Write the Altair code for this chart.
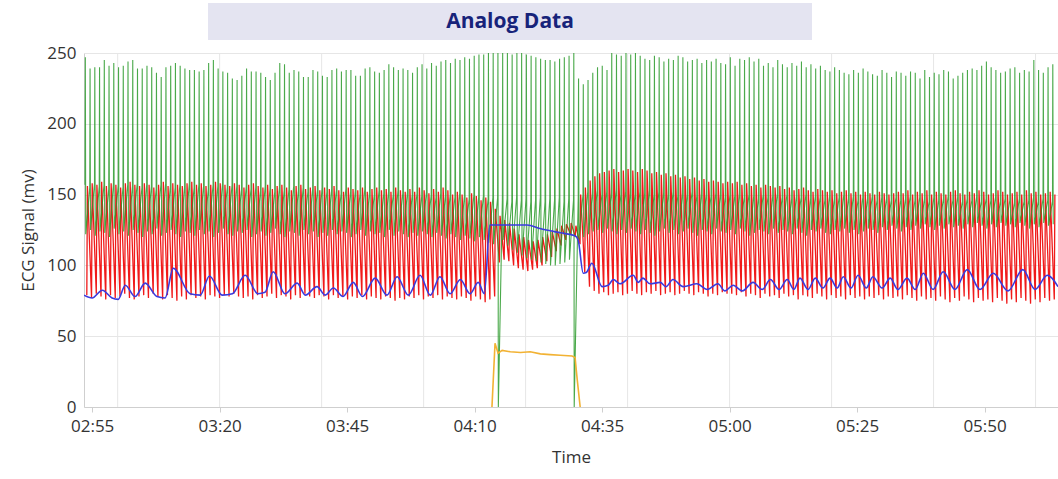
import altair as alt
import pandas as pd

# ---------------- data ----------------
# time axis in seconds (labels shown as mm:ss)
x_domain = [173.4, 364.4]
label_times = [175, 200, 225, 250, 275, 300, 325, 350]
grid_times = [180, 200, 220, 240, 260, 280, 300, 320, 340, 360]
y_ticks = [0, 50, 100, 150, 200, 250]

beat_start = 173.6      # first beat (s)
beat_period = 0.93      # seconds between beats

# green lead: R-peak, S-trough, T level for each beat
green_R = ([247, 239, 240, 240, 245, 241, 243, 240, 241, 244, 245, 239, 239, 241, 240, 236, 233, 240, 241, 243,
            241, 239, 238, 238, 237, 238, 243, 245, 239, 237, 236, 232, 231, 234]
           + [239, 237, 237, 236, 233, 231, 236, 243, 242, 236, 238, 237, 233, 233, 238, 237, 234, 233, 238, 239,
              237, 238, 238, 234, 234, 239, 240, 237, 236, 238, 242, 240, 238, 239]
           + [238, 236, 240, 242, 239, 243, 241, 244, 245, 243, 246, 245, 247, 246, 248, 249, 249, 250, 250]
           + [250]
           + [250, 250, 249, 250, 250, 249, 248, 247, 246, 245, 245, 244, 246, 247, 248]
           + [250]
           + [232, 228, 231, 236, 240, 241, 238]
           + [250, 249, 248, 250, 249, 250, 248, 246, 245, 248, 247, 244, 246, 245, 248, 247, 244, 245, 246, 243,
              245, 244, 246, 243, 242]
           + [247, 241, 246, 245, 247, 244, 246, 241, 243, 240, 245, 242, 240, 243, 241, 244, 240, 242, 239, 241,
              238, 237, 240, 238, 236, 235, 238, 236, 239, 237, 235, 234, 238, 236, 233]
           + [237, 236, 234, 237, 236, 232, 238, 233, 236, 235, 238, 237, 232, 234, 236, 238, 239, 238, 241, 244,
              240, 238, 236, 237, 239, 240, 236, 238, 237, 245, 238, 236, 240, 242])

green_S = ([122, 125, 121, 124, 123, 120, 126, 122, 124, 121, 125, 123, 120, 124, 122, 126, 121, 123, 125, 122,
            120, 124, 123, 121, 125, 122, 124, 120, 123, 126, 122, 121, 124, 123, 125, 120, 122, 124, 121, 123,
            126, 122, 120, 124, 123, 121, 125, 122, 124, 120, 123, 121, 125, 122, 124, 123, 120, 122, 125, 121,
            124, 122, 123, 120, 125, 121, 124, 122, 120, 123, 121, 124, 122, 120, 123, 121, 119, 122, 120, 118,
            121, 119, 117, 120, 118, 116, 115]
           + [0]
           + [118, 114, 111, 109, 107, 105, 104, 103, 102, 101, 100, 100, 101, 102, 104]
           + [0]
           + [118, 120, 122, 124, 125, 123, 126, 124, 122, 125, 123, 126, 124, 122, 125, 123, 121, 124, 126, 123,
              125, 122, 124, 126, 123, 121, 125, 124, 122, 126, 124, 123, 125, 122, 126, 124, 121, 123, 125, 124,
              122, 126, 123, 125, 124, 122, 126, 123, 121, 125, 124, 126, 123, 122, 125, 124, 126, 123, 125, 122,
              124, 126, 125, 123, 127, 125, 128, 126, 124, 127, 125, 128, 126, 129, 127, 125, 128, 126, 129, 127,
              128, 126, 129, 127, 130, 128, 126, 129, 127, 130, 128, 129, 127, 130, 128, 126, 129, 127, 130, 128,
              129])

green_T = ([157, 155, 158, 156, 157, 154, 158, 156, 155, 157, 156, 158, 155, 157, 156, 154, 157, 158, 156, 155,
            157, 156, 158, 155, 157, 156, 154, 157, 156, 158, 155, 157, 156, 154]
           + [156, 154, 155, 153, 156, 154, 152, 155, 153, 154, 156, 153, 155, 152, 154, 153, 155, 152, 154, 153,
              151, 154, 152, 153, 151, 154, 152, 150, 153, 151, 152, 150, 153, 151]
           + [152, 150, 151, 149, 152, 150, 148, 151, 149, 150, 148, 151, 149, 147, 150, 148, 149, 147, 148]
           + [148, 146, 147, 145, 148, 146, 147, 145, 146, 148, 145, 147, 146, 148, 145, 147, 146]
           + [148, 150, 152, 151, 153, 150, 152, 151, 153, 150, 152, 151, 150, 152, 151, 153, 150, 152, 151, 150,
              152, 149, 151, 150, 152, 149, 151, 150, 149, 151, 150, 148]
           + [150, 149, 151, 148, 150, 149, 147, 150, 148, 149, 151, 148, 150, 147, 149, 148, 150, 147, 149, 148,
              146, 149, 147, 148, 150, 147, 149, 146, 148, 147, 149, 146, 148, 147, 146]
           + [148, 146, 147, 149, 146, 148, 147, 145, 148, 146, 147, 149, 146, 148, 145, 147, 146, 148, 145, 147,
              146, 148, 145, 147, 146, 144, 147, 145, 146, 148, 145, 147, 146, 145])

# red lead: high and low of each beat
red_high = ([156, 158, 157, 159, 156, 158, 157, 155, 158, 159, 157, 156, 158, 157, 155, 157, 159, 156, 158, 157,
             156, 158, 159, 157, 158, 156, 157, 159, 158, 157, 156, 158, 157, 155]
            + [157, 158, 156, 155, 157, 154, 156, 157, 155, 153, 156, 157, 154, 155, 156, 153, 155, 154, 156, 153,
               152, 155, 154, 153, 155, 152, 154, 155, 153, 154, 152, 155, 153, 152]
            + [154, 152, 155, 153, 151, 154, 152, 155, 153, 150, 152, 150, 148, 151, 149, 146, 148, 145, 140]
            + [135, 132, 130, 126, 122, 120, 118, 117, 118, 120, 122, 124, 126, 128, 129, 130, 128]
            + [150, 155, 160, 163, 165, 166, 167, 168, 166, 167, 168, 167, 166, 168, 167, 165, 166, 164, 165, 163,
               164, 162, 163, 161, 162, 160, 161, 159, 160, 159, 158, 159]
            + [158, 159, 157, 158, 156, 157, 155, 157, 156, 155, 156, 154, 155, 153, 154, 155, 153, 152, 154, 153,
               152, 153, 151, 152, 153, 151, 152, 150, 152, 151, 150, 152, 151, 150, 151]
            + [152, 151, 153, 150, 152, 151, 153, 150, 152, 151, 150, 152, 153, 151, 150, 152, 151, 153, 152, 150,
               151, 153, 152, 150, 151, 152, 150, 153, 151, 152, 150, 151, 152, 150])

red_low = ([79, 77, 80, 78, 76, 79, 77, 78, 80, 77, 76, 78, 79, 77, 80, 78, 76, 79, 77, 75,
            78, 76, 79, 77, 78, 76, 79, 78, 77, 79, 78, 80, 78, 77]
           + [78, 76, 79, 77, 78, 80, 77, 79, 78, 76, 79, 77, 80, 78, 77, 79, 78, 76, 79, 77,
              78, 76, 78, 77, 79, 76, 78, 77, 76, 78, 77, 75, 77, 76]
           + [78, 77, 79, 76, 78, 77, 79, 76, 78, 77, 76, 78, 77, 75, 78, 76, 74, 76, 78]
           + [102, 104, 103, 100, 98, 97, 96, 97, 98, 100, 103, 106, 110, 114, 118, 122, 120]
           + [115, 95, 85, 82, 80, 81, 79, 80, 81, 79, 80, 82, 80, 79, 81, 80, 82, 79, 80, 81,
              79, 80, 82, 80, 79, 81, 80, 78, 80, 79, 81, 80]
           + [80, 79, 81, 78, 80, 79, 77, 80, 78, 79, 77, 80, 78, 79, 76, 79, 78, 77, 80, 78,
              76, 79, 77, 78, 76, 79, 77, 78, 76, 78, 77, 79, 76, 78, 77]
           + [78, 76, 79, 77, 75, 78, 76, 77, 75, 78, 76, 74, 77, 75, 78, 76, 74, 77, 75, 76,
              74, 77, 75, 73, 76, 74, 77, 75, 73, 76, 74, 77, 75, 76])

# blue channel (time s, value)
blue_t = [173.4, 175.0, 177.0, 178.9, 180.1, 181.5, 183.4, 185.4, 187.7, 189.3, 190.9, 194.2, 196.2, 198.0,
          200.5, 202.5, 205.0, 207.5, 208.9, 210.5, 212.8, 215.2, 216.8, 219.1, 220.7, 222.3, 224.2, 226.2,
          228.0, 230.5, 232.8, 234.8, 237.0, 239.3, 241.3, 243.2, 245.2, 247.2, 249.1, 250.7, 251.9, 253.0,
          260.3, 262.8, 266.8, 269.7, 270.3, 271.3, 271.9, 273.0, 275.0, 276.2, 277.2, 278.5, 281.1, 282.1,
          283.0, 284.4, 286.4, 287.5, 288.9, 290.9, 293.6, 295.6, 297.7, 299.1, 300.7, 302.5, 304.6, 306.4,
          308.0, 309.7, 311.3, 312.6, 313.8, 315.4, 316.8, 318.3, 319.7, 321.1, 322.3, 323.8, 325.2, 326.8,
          328.1, 329.9, 331.5, 333.0, 334.8, 336.4, 338.0, 339.9, 341.9, 344.2, 346.6, 349.1, 351.7, 354.6,
          357.5, 359.9, 362.3, 364.4]
blue_v = [79, 77, 82.5, 77, 76, 86, 78, 87.5, 78, 77, 98, 80, 79, 92.5,
          79, 80, 93, 80, 81, 95.5, 80, 87.5, 79, 85, 79, 84, 78, 88,
          78, 91, 79, 92, 79, 93, 79, 92, 80, 90, 80, 88, 80, 128.5,
          128.5, 126, 123, 121, 118, 94.5, 95, 101.5, 85, 86, 90, 87, 93, 88,
          91, 87, 88, 85, 90, 85, 87, 83, 87, 82, 86, 82, 88, 83,
          90, 83, 90, 83, 91, 83, 91, 84, 91, 84, 92, 84, 93, 84,
          92, 84, 91, 83, 91, 83, 94.5, 83, 95.5, 83, 97, 83, 94.5, 82,
          97, 83, 93, 85]

# yellow channel (time s, value)
yellow_t = [253.4, 254.0, 254.6, 255.4, 257.0, 259.0, 260.9, 262.9, 264.8, 266.8, 269.1, 269.7, 270.1, 270.7]
yellow_v = [0, 45, 38, 40, 39, 38.5, 39, 37.5, 37, 36.5, 36, 35, 20, 0]

# ---------------- build tables ----------------
green_rows, red_rows = [], []
for i in range(len(green_R)):
    t = beat_start + i * beat_period
    green_rows += [{"t": t, "v": green_T[i]},
                   {"t": t + 0.06, "v": green_R[i]},
                   {"t": t + 0.14, "v": green_S[i]}]
    red_rows += [{"t": t + 0.35, "v": red_low[i]},
                 {"t": t + 0.47, "v": red_high[i]}]

green_df = pd.DataFrame(green_rows)
red_df = pd.DataFrame(red_rows)
blue_df = pd.DataFrame({"t": blue_t, "v": blue_v})
yellow_df = pd.DataFrame({"t": yellow_t, "v": yellow_v})
grid_df = pd.DataFrame({"t": grid_times})

FONT = "Open Sans"

xscale = alt.Scale(domain=x_domain, nice=False, zero=False)
yscale = alt.Scale(domain=[0, 250], nice=False)

x_axis = alt.Axis(values=label_times, labelExpr="utcFormat(datum.value * 1000, '%M:%S')",
                  grid=False, tickSize=5, tickColor="#cfcfcf", domainColor="#cfcfcf",
                  labelFontSize=17, labelColor="#333333", labelFont=FONT, labelPadding=6,
                  title="Time", titleFont=FONT, titleFontSize=17, titleFontWeight="normal",
                  titleColor="#333333", titlePadding=15)
y_axis = alt.Axis(values=y_ticks, grid=True, gridColor="#e6e6e6", ticks=False,
                  domainColor="#cfcfcf", labelFontSize=17, labelColor="#333333", labelFont=FONT,
                  labelPadding=8, title="ECG Signal (mv)", titleFont=FONT, titleFontSize=17,
                  titleFontWeight="normal", titleColor="#333333", titlePadding=9)

grid = alt.Chart(grid_df).mark_rule(color="#e6e6e6", strokeWidth=1).encode(
    x=alt.X("t:Q", scale=xscale, axis=x_axis)
)

def line(df, color, width, opacity=1.0, interp="linear"):
    return alt.Chart(df).mark_line(color=color, strokeWidth=width, opacity=opacity,
                                   interpolate=interp, clip=True).encode(
        x=alt.X("t:Q", scale=xscale, axis=x_axis),
        y=alt.Y("v:Q", scale=yscale, axis=y_axis),
        order="t:Q",
    )

red = line(red_df, "#f01a1a", 1.3)
green = line(green_df, "#2a9a2a", 1.1, opacity=0.85)
blue = line(blue_df, "#3a3ade", 1.6, interp="monotone")
yellow = line(yellow_df, "#f2b233", 1.6)

one = pd.DataFrame({"a": [0]})
title_box = alt.Chart(one).mark_rect(color="#e4e4f1").encode(
    x=alt.value(124), x2=alt.value(728), y=alt.value(-50), y2=alt.value(-13)
)
title_text = alt.Chart(one).mark_text(text="Analog Data", font=FONT, fontSize=21, fontWeight="bold",
                                      color="#17237a", align="center", baseline="middle").encode(
    x=alt.value(426), y=alt.value(-31)
)

chart = alt.layer(grid, red, green, blue, yellow, title_box, title_text).properties(
    width=974, height=354,
    padding={"left": 84, "top": 53, "right": 0, "bottom": 72},
    autosize=alt.AutoSizeParams(type="none"),
    background="white",
).configure_view(stroke=None)

chart.save("out.html", embed_options={"renderer": "svg", "actions": False})
